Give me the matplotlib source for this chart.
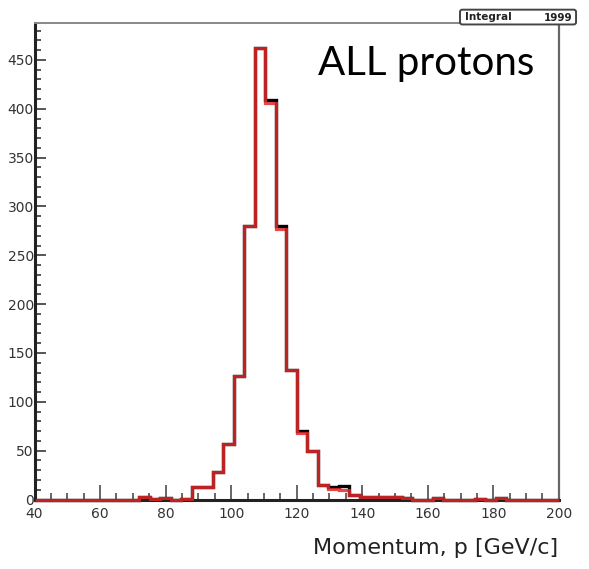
import numpy as np
import matplotlib
matplotlib.use("Agg")
import matplotlib.pyplot as plt
from matplotlib.patches import FancyBboxPatch
from matplotlib.ticker import MultipleLocator

# histogram binning: 50 bins, 40..200 GeV/c
x_lo, x_hi, n_bins = 40, 200, 50
edges = np.linspace(x_lo, x_hi, n_bins + 1)

# counts (black = reference histo, red = overlay)
counts_black = [0, 0, 0, 0, 0, 0, 0, 0, 0, 0,
                3, 1, 2, 0, 1, 13, 13, 28, 57, 126,
                280, 462, 409, 280, 133, 70, 50, 15, 13, 14,
                5, 3, 3, 3, 3, 2, 0, 0, 2, 0,
                0, 0, 1, 0, 2, 0, 0, 0, 0, 0]
counts_red = [0, 0, 0, 0, 0, 0, 0, 0, 0, 0,
              3, 1, 2, 0, 1, 13, 13, 28, 57, 126,
              280, 462, 406, 277, 133, 68, 50, 15, 11, 10,
              5, 3, 3, 3, 3, 2, 0, 0, 2, 0,
              0, 0, 1, 0, 2, 0, 0, 0, 0, 0]

integral = 1999
title_text = "ALL protons"
x_label = "Momentum, p [GeV/c]"

fig = plt.figure(figsize=(5.89, 5.69), dpi=100)
ax = fig.add_axes([0.0586, 0.1221, 0.9488 - 0.0586, 0.960 - 0.1221])

ax.stairs(counts_black, edges, color="black", lw=2.4, clip_on=False, zorder=3)
ax.stairs(counts_red, edges, color="#e02a2a", alpha=0.85, lw=2.3,
          clip_on=False, zorder=4)

ax.set_xlim(x_lo, x_hi)
ax.set_ylim(0, 488)

# ROOT-like frame
ax.spines["left"].set_linewidth(2.2)
ax.spines["left"].set_color("#222222")
ax.spines["bottom"].set_linewidth(2.2)
ax.spines["bottom"].set_color("#222222")
ax.spines["top"].set_linewidth(1.4)
ax.spines["top"].set_color("#888888")
ax.spines["right"].set_linewidth(1.6)
ax.spines["right"].set_color("#666666")

ax.xaxis.set_major_locator(MultipleLocator(20))
ax.xaxis.set_minor_locator(MultipleLocator(5))
ax.yaxis.set_major_locator(MultipleLocator(50))
ax.yaxis.set_minor_locator(MultipleLocator(10))

ax.tick_params(axis="x", which="major", direction="in", length=11, width=1.4,
               color="#666666", pad=5.5, labelsize=10, labelcolor="#333333",
               top=False)
ax.tick_params(axis="x", which="minor", direction="in", length=5, width=1.4,
               color="#666666", top=False)
ax.tick_params(axis="y", which="major", direction="in", length=8, width=1.4,
               color="#555555", pad=0.5, labelsize=10, labelcolor="#333333",
               right=False)
ax.tick_params(axis="y", which="minor", direction="in", length=4, width=1.4,
               color="#555555", right=False)

for lab in ax.get_xticklabels() + ax.get_yticklabels():
    lab.set_family("DejaVu Sans")

fig.text(0.948, 0.026, x_label, ha="right", va="baseline",
         fontsize=16, color="#222222", family="DejaVu Sans")

fig.text(0.540, 0.868, title_text, ha="left", va="baseline",
         fontsize=29, color="black", family="Lato")

# statistics box
box = FancyBboxPatch((0.781, 0.957), 0.197, 0.026,
                     boxstyle="round,pad=0,rounding_size=0.004",
                     transform=fig.transFigure, facecolor="white",
                     edgecolor="#444444", lw=1.4, zorder=10)
fig.add_artist(box)
fig.text(0.789, 0.970, "Integral", ha="left", va="center", fontsize=7.5,
         color="#222222", family="DejaVu Sans", weight="semibold", zorder=11)
fig.text(0.972, 0.968, str(integral), ha="right", va="center", fontsize=7.5,
         color="#222222", family="DejaVu Sans", weight="semibold", zorder=11)

fig.savefig("out.png", dpi=100)
